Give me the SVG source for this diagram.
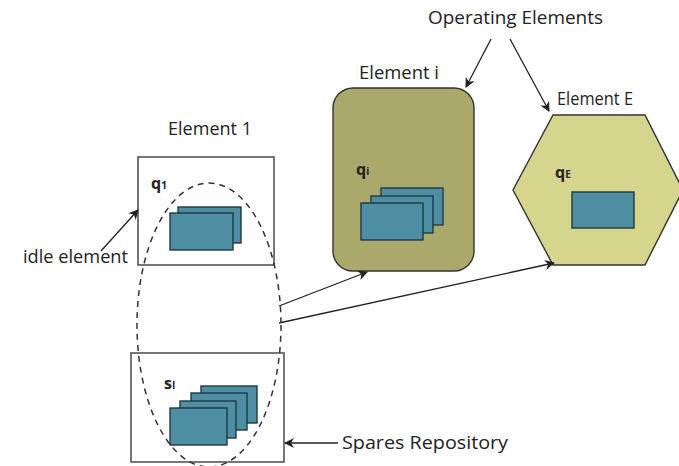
<svg xmlns="http://www.w3.org/2000/svg" width="679" height="466" viewBox="0 0 679 466">
  <style>
    .lbl { font-family: "Open Sans", "Liberation Sans", sans-serif; font-size: 18px; fill: #222; }
    .q { font-family: "Open Sans", "Liberation Sans", sans-serif; font-size: 16px; font-weight: bold; fill: #222; }
    .sub { font-size: 10px; }
    .box { fill: #fff; stroke: #555; stroke-width: 1.6; }
    .card { fill: #4d8ea3; stroke: #1f3a42; stroke-width: 1.4; }
    .conn { fill: none; stroke: #222; stroke-width: 1.3; marker-end: url(#arr); }
  </style>
  <defs>
    <marker id="arr" viewBox="0 0 10 10" refX="9" refY="5" markerWidth="10" markerHeight="10" orient="auto" markerUnits="userSpaceOnUse">
      <path d="M0,0 L10,5 L0,10 L3,5 z" fill="#222"/>
    </marker>
  </defs>
  <rect width="679" height="466" fill="#fff"/>

  <text class="lbl" x="428" y="24" textLength="175" lengthAdjust="spacingAndGlyphs">Operating Elements</text>

  <!-- idle element -->
  <g id="element-1">
    <text class="lbl" x="168" y="135" textLength="84" lengthAdjust="spacingAndGlyphs">Element 1</text>
    <rect class="box" x="138" y="157" width="136" height="108"/>
    <text class="q" x="151" y="189">q<tspan class="sub">1</tspan></text>
    <rect class="card" x="178" y="207" width="63" height="36"/>
    <rect class="card" x="170" y="213" width="63" height="37"/>
  </g>

  <!-- spares repository -->
  <g id="spares">
    <rect class="box" x="131" y="353" width="153" height="109"/>
    <text class="q" x="164" y="389">s<tspan class="sub">I</tspan></text>
    <rect class="card" x="201" y="386" width="56" height="37"/>
    <rect class="card" x="191" y="393" width="56" height="37"/>
    <rect class="card" x="180" y="401" width="56" height="37"/>
    <rect class="card" x="170" y="408" width="57" height="37"/>
  </g>

  <!-- active element i -->
  <g id="element-i">
    <text class="lbl" x="359" y="79" textLength="80" lengthAdjust="spacingAndGlyphs">Element i</text>
    <rect x="333" y="88" width="141" height="183" rx="20" fill="#aaa96b" stroke="#333" stroke-width="1.4"/>
    <text class="q" x="356" y="175">q<tspan class="sub">i</tspan></text>
    <rect class="card" x="381" y="188" width="62" height="37"/>
    <rect class="card" x="371" y="196" width="62" height="37"/>
    <rect class="card" x="361" y="203" width="62" height="37"/>
  </g>

  <!-- active element E -->
  <g id="element-E">
    <text class="lbl" x="557" y="105" textLength="76" lengthAdjust="spacingAndGlyphs">Element E</text>
    <polygon points="553,115 645,115 683,190 645,265 553,265 513,190" fill="#d6d58e" stroke="#333" stroke-width="1.4"/>
    <text class="q" x="555" y="178">q<tspan class="sub">E</tspan></text>
    <rect class="card" x="572" y="192" width="62" height="36"/>
  </g>

  <!-- grouping of element 1 and spares -->
  <ellipse id="group" cx="209" cy="325" rx="72" ry="142" fill="none" stroke="#333" stroke-width="1.5" stroke-dasharray="6,5"/>

  <g id="connectors">
    <line class="conn" x1="491" y1="39" x2="466" y2="87"/>
    <line class="conn" x1="510" y1="39" x2="549" y2="111"/>
    <line class="conn" x1="101" y1="251" x2="138" y2="210"/>
    <line class="conn" x1="279" y1="306" x2="367" y2="272"/>
    <line class="conn" x1="279" y1="323" x2="554" y2="263"/>
    <line class="conn" x1="338" y1="443" x2="285" y2="443"/>
  </g>

  <text class="lbl" x="23" y="263" textLength="105" lengthAdjust="spacingAndGlyphs">idle element</text>
  <text class="lbl" x="342" y="449" textLength="166" lengthAdjust="spacingAndGlyphs">Spares Repository</text>
</svg>
